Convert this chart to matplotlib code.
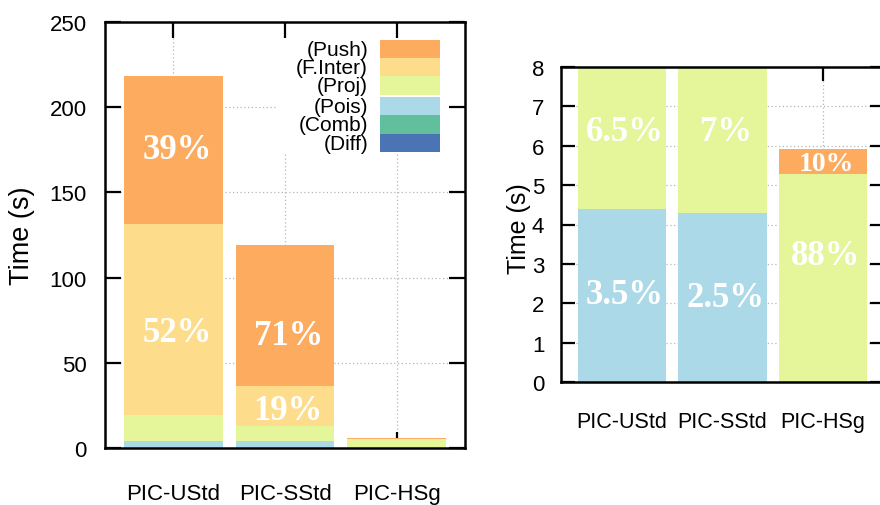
import matplotlib
matplotlib.use('Agg')
import matplotlib.pyplot as plt
from matplotlib.patches import Rectangle
import numpy as np

# ---------------- data ----------------
categories = ['PIC-UStd', 'PIC-SStd', 'PIC-HSg']
components = ['Diff', 'Comb', 'Pois', 'Proj', 'F.Inter', 'Push']
diff = [0.0, 0.0, 0.0]
comb = [0.0, 0.0, 0.0]
pois = [4.4, 4.3, 0.0]
proj = [14.9, 8.6, 5.28]
finter = [112.4, 23.5, 0.0]
push = [86.7, 82.6, 0.64]
colors = ['#4A74B4', '#62BF9E', '#ABD9E7', '#E4F59A', '#FDDD8C', '#FCAB5F']

left_yticks = [0, 50, 100, 150, 200, 250]
right_yticks = [0, 1, 2, 3, 4, 5, 6, 7, 8]

# percent annotations: (text, category index, y value)
left_pct = [('39%', 0, 175), ('52%', 0, 68), ('71%', 1, 66), ('19%', 1, 22)]
right_pct = [('6.5%', 0, 6.35), ('7%', 1, 6.35), ('10%', 2, 5.55),
             ('3.5%', 0, 2.22), ('2.5%', 1, 2.15), ('88%', 2, 3.2)]

# ---------------- style ----------------
plt.rcParams['font.family'] = ['Liberation Sans', 'DejaVu Sans']
SERIF = ['Liberation Serif', 'DejaVu Serif']
W, H = 880, 506
fig = plt.figure(figsize=(W / 100, H / 100), dpi=100)

axL = fig.add_axes([105 / W, 1 - 449 / H, 360 / W, 426 / H])
axR = fig.add_axes([561 / W, 1 - 383 / H, 323 / W, 315 / H])

series = [diff, comb, pois, proj, finter, push]
x = np.arange(len(categories))

grid_kw = dict(color='#b5b5b5', lw=0.9, ls=(0, (1, 2)), zorder=0.3)


def setup(ax, width, xlim, ylim, yticks, ticklen, labsize, xpad, ypad):
    bottom = np.zeros(len(categories))
    for vals, c in zip(series, colors):
        ax.bar(x, vals, width, bottom=bottom, color=c, edgecolor='none',
               linewidth=0, zorder=2)
        bottom += np.array(vals)
    ax.set_xlim(*xlim)
    ax.set_ylim(*ylim)
    ax.set_yticks(yticks)
    ax.set_xticks(x)
    ax.set_xticklabels(categories)
    for yv in yticks:
        ax.axhline(yv, **grid_kw)
    for xv in x:
        ax.axvline(xv, **grid_kw)
    ax.tick_params(direction='in', length=ticklen, width=1.6, top=True,
                   right=True, labelsize=labsize, color='black')
    ax.tick_params(axis='x', pad=xpad)
    ax.tick_params(axis='y', pad=ypad)
    ax.xaxis.set_zorder(1.5)
    ax.yaxis.set_zorder(1.5)
    for s in ax.spines.values():
        s.set_linewidth(1.8)
        s.set_zorder(3)


setup(axL, 0.88, (-0.614, 2.614), (0, 250), left_yticks, 11.5, 16, 25, 13)
setup(axR, 0.885, (-0.607, 2.607), (0, 8), right_yticks, 10, 16, 21, 12)
axR.tick_params(axis='x', labelsize=15.5)

axL.set_ylabel('Time (s)', fontsize=19.5, va='center')
axL.yaxis.set_label_coords((22 - 105) / 360, 0.5)
axR.set_ylabel('Time (s)', fontsize=18, va='center')
axR.yaxis.set_label_coords((519 - 561) / 323, 0.49)

# percent labels
for t, i, yv in left_pct:
    axL.text(i + 0.03, yv, t, color='white', fontsize=25, fontweight='bold',
             family=SERIF, ha='center', va='center', zorder=4)
for t, i, yv in right_pct:
    fs = 20 if t == '10%' else 25
    axR.text(i + 0.03, yv, t, color='white', fontsize=fs, fontweight='bold',
             family=SERIF, ha='center', va='center', zorder=4)

# legend (opaque background, text right-aligned, stacked colour boxes)
def ax_frac(px, py):
    return (px - 105) / 360, (449 - py) / 426

bx0, by0 = ax_frac(277, 155)
axL.add_patch(Rectangle((bx0, by0), 1 - bx0, 1 - by0, transform=axL.transAxes,
                        facecolor='white', edgecolor='none', zorder=1.0))
box_tops = [40.7, 59.0, 77.3, 98.0, 116.3, 134.6]
legend_order = list(zip(components[::-1], colors[::-1]))
for (name, c), top in zip(legend_order, box_tops):
    x0, y1 = ax_frac(380, top)
    x1, y0 = ax_frac(440, top + 18.3)
    axL.add_patch(Rectangle((x0, y0), x1 - x0, y1 - y0, transform=axL.transAxes,
                            facecolor=c, edgecolor='none', zorder=3))
    tx, ty = ax_frac(368, top + 9.5)
    axL.text(tx, ty, '(' + name + ')', transform=axL.transAxes, ha='right',
             va='center', fontsize=15, zorder=3)

fig.savefig('out.png', dpi=100)
